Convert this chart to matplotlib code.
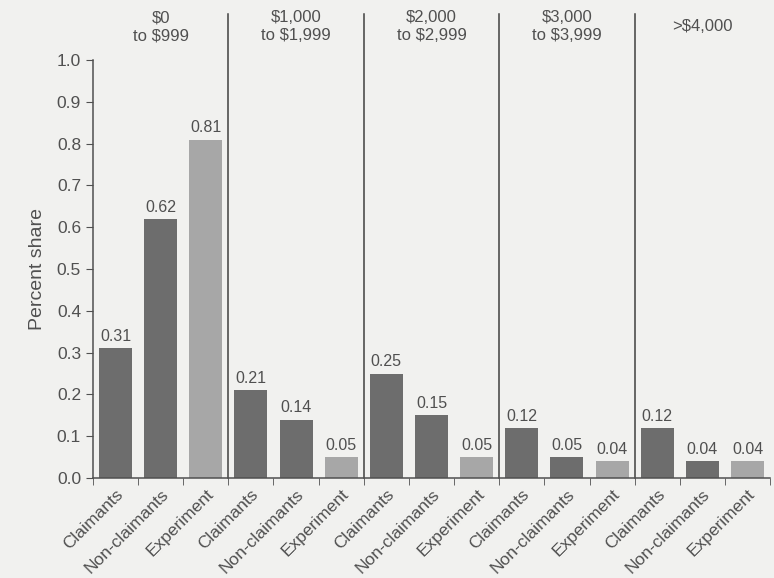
import matplotlib.pyplot as plt
import numpy as np

groups = ["$0\nto $999", "$1,000\nto $1,999", "$2,000\nto $2,999",
          "$3,000\nto $3,999", ">$4,000"]
categories = ["Claimants", "Non-claimants", "Experiment"]
claimants = [0.31, 0.21, 0.25, 0.12, 0.12]
non_claimants = [0.62, 0.14, 0.15, 0.05, 0.04]
experiment = [0.81, 0.05, 0.05, 0.04, 0.04]

bg = "#f1f1ef"
ink = "#505050"
dark = "#6d6d6d"
light = "#a7a7a7"

plt.rcParams["font.family"] = ["Liberation Sans", "DejaVu Sans"]

fig = plt.figure(figsize=(7.74, 5.78), dpi=100, facecolor=bg)
ax = fig.add_axes([0.120, 0.173, 0.875, 0.723], facecolor=bg)

values = []
colors = []
labels = []
for c, n, e in zip(claimants, non_claimants, experiment):
    values += [c, n, e]
    colors += [dark, dark, light]
    labels += categories
x = np.arange(len(values))

ax.bar(x, values, width=0.73, color=colors, edgecolor="none")
for xi, v in zip(x, values):
    ax.text(xi, v + 0.01, f"{v:.2f}", ha="center", va="bottom",
            fontsize=11.5, color=ink)

ax.set_xlim(-0.5, len(values) - 0.5)
ax.set_ylim(0, 1.0)
ax.set_yticks(np.arange(0, 1.01, 0.1))
ax.set_yticklabels([f"{t:.1f}" for t in np.arange(0, 1.01, 0.1)])

ax.set_xticks(x)
ax.set_xticklabels(labels, rotation=45, ha="right", rotation_mode="anchor",
                   fontsize=12.5, color=ink)
ax.tick_params(axis="x", which="major", length=0, pad=6)
ax.set_xticks(np.arange(-0.5, len(values), 1.0), minor=True)
ax.tick_params(axis="x", which="minor", length=5, color=ink, direction="out")
ax.tick_params(axis="y", length=5, color=ink, labelsize=12.5, labelcolor=ink)

for s in ["top", "right"]:
    ax.spines[s].set_visible(False)
for s in ["left", "bottom"]:
    ax.spines[s].set_color(ink)
    ax.spines[s].set_linewidth(1.1)

for i in range(1, len(groups)):
    ax.plot([3 * i - 0.5, 3 * i - 0.5], [0, 1.11], color="#404040",
            lw=1.1, clip_on=False)

for i, g in enumerate(groups):
    ax.text(3 * i + 1, 1.08, g, ha="center", va="center", fontsize=12,
            color=ink, linespacing=1.25)

ax.set_ylabel("Percent share", fontsize=14, color=ink, labelpad=8)

fig.savefig("out.png", dpi=100, facecolor=bg)
